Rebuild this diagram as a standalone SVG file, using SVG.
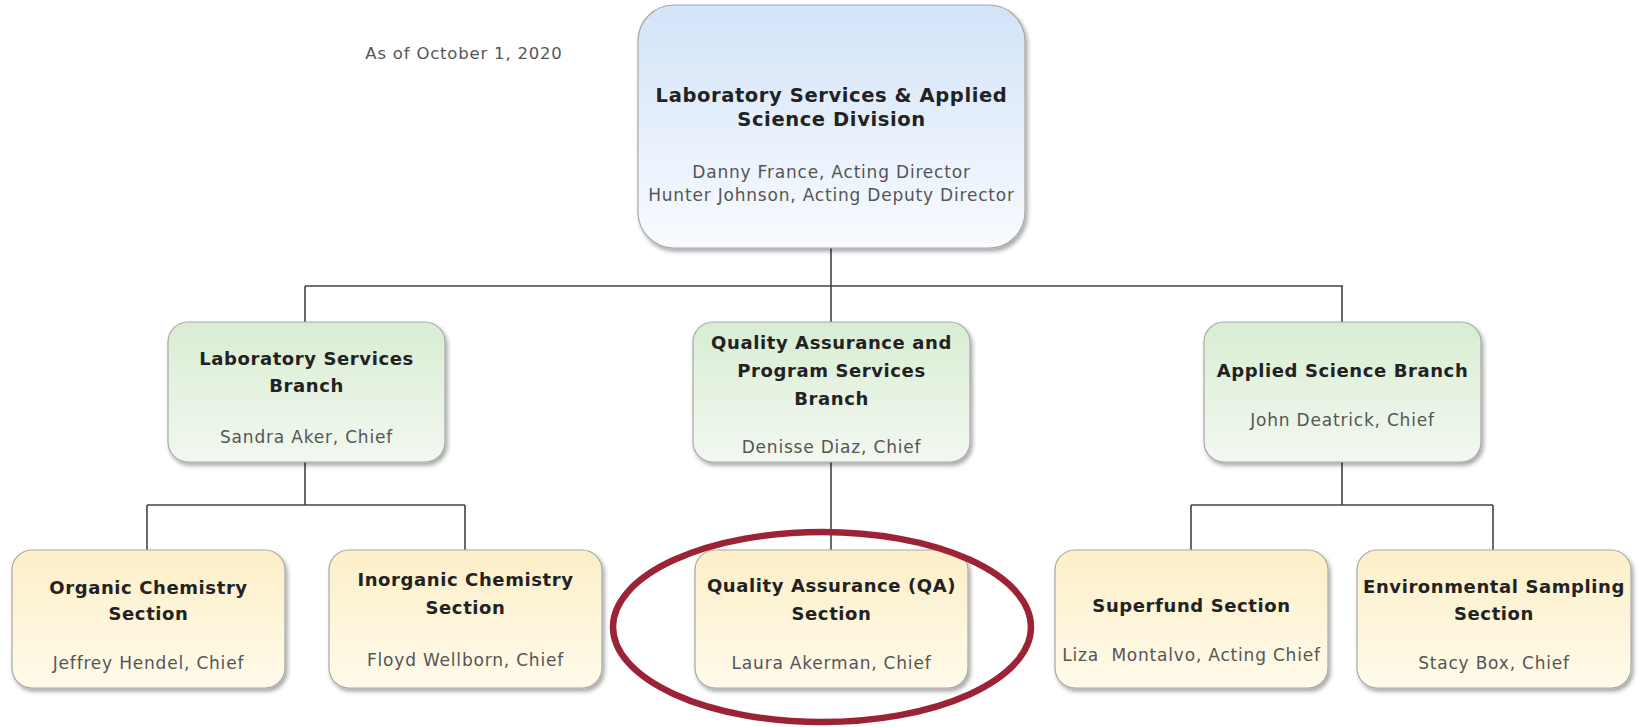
<svg xmlns="http://www.w3.org/2000/svg" width="1638" height="727" viewBox="0 0 1638 727">
<defs>
<linearGradient id="gBlue" x1="0" y1="0" x2="0" y2="1"><stop offset="0" stop-color="#d3e3f8"/><stop offset="1" stop-color="#f8fbfe"/></linearGradient>
<linearGradient id="gGreen" x1="0" y1="0" x2="0" y2="1"><stop offset="0" stop-color="#d9edd3"/><stop offset="1" stop-color="#f2f8f0"/></linearGradient>
<linearGradient id="gYellow" x1="0" y1="0" x2="0" y2="1"><stop offset="0" stop-color="#fcefc8"/><stop offset="1" stop-color="#fffaea"/></linearGradient>
<filter id="sh" x="-10%" y="-10%" width="125%" height="130%"><feDropShadow dx="2" dy="3" stdDeviation="2" flood-color="#000" flood-opacity="0.35"/></filter>
</defs>
<style>
.box{stroke:#a8a8a8;stroke-width:1.2;filter:url(#sh)}
.t{font-family:"DejaVu Sans",sans-serif;font-weight:bold;font-size:18px;fill:#222;text-anchor:middle;letter-spacing:0.6px}
.tt{font-size:19.5px}
.n{font-family:"DejaVu Sans",sans-serif;font-size:17px;fill:#555;text-anchor:middle;letter-spacing:0.8px}
.c{fill:none;stroke:#444;stroke-width:1.6}
</style>
<rect width="1638" height="727" fill="#fff"/>
<text x="464" y="59" style="font-family:'DejaVu Sans',sans-serif;font-size:16.5px;fill:#555;text-anchor:middle;letter-spacing:0.8px">As of October 1, 2020</text>
<g id="connectors">
<path class="c" d="M831 248V286M305 286H1343M305 286V322M831 286V322M1342 286V322"/>
<path class="c" d="M305 462V505M147 505H465M147 505V550M465 505V550"/>
<path class="c" d="M831 462V550"/>
<path class="c" d="M1342 462V505M1191 505H1493M1191 505V550M1493 505V550"/>
</g>
<g id="division">
<rect class="box" x="638" y="5" width="387" height="243" rx="36" fill="url(#gBlue)"/>
<text class="t tt" x="831.5" y="102">Laboratory Services &amp; Applied</text>
<text class="t tt" x="831.5" y="126">Science Division</text>
<text class="n" x="831.5" y="178">Danny France, Acting Director</text>
<text class="n" x="831.5" y="201">Hunter Johnson, Acting Deputy Director</text>
</g>
<g id="lab-branch">
<rect class="box" x="168" y="322" width="277" height="140" rx="20" fill="url(#gGreen)"/>
<text class="t" x="306.5" y="365">Laboratory Services</text>
<text class="t" x="306.5" y="392">Branch</text>
<text class="n" x="306.5" y="443">Sandra Aker, Chief</text>
</g>
<g id="qa-branch">
<rect class="box" x="693" y="322" width="277" height="140" rx="20" fill="url(#gGreen)"/>
<text class="t" x="831.5" y="349">Quality Assurance and</text>
<text class="t" x="831.5" y="377">Program Services</text>
<text class="t" x="831.5" y="405">Branch</text>
<text class="n" x="831.5" y="453">Denisse Diaz, Chief</text>
</g>
<g id="as-branch">
<rect class="box" x="1204" y="322" width="277" height="140" rx="20" fill="url(#gGreen)"/>
<text class="t" x="1342.5" y="377">Applied Science Branch</text>
<text class="n" x="1342.5" y="426">John Deatrick, Chief</text>
</g>
<g id="organic">
<rect class="box" x="12" y="550" width="273" height="138" rx="20" fill="url(#gYellow)"/>
<text class="t" x="148.5" y="594">Organic Chemistry</text>
<text class="t" x="148.5" y="620">Section</text>
<text class="n" x="148.5" y="669">Jeffrey Hendel, Chief</text>
</g>
<g id="inorganic">
<rect class="box" x="329" y="550" width="273" height="138" rx="20" fill="url(#gYellow)"/>
<text class="t" x="465.5" y="586">Inorganic Chemistry</text>
<text class="t" x="465.5" y="614">Section</text>
<text class="n" x="465.5" y="666">Floyd Wellborn, Chief</text>
</g>
<g id="qa-section">
<rect class="box" x="695" y="550" width="273" height="138" rx="20" fill="url(#gYellow)"/>
<text class="t" x="831.5" y="592">Quality Assurance (QA)</text>
<text class="t" x="831.5" y="620">Section</text>
<text class="n" x="831.5" y="669">Laura Akerman, Chief</text>
</g>
<g id="superfund">
<rect class="box" x="1055" y="550" width="273" height="138" rx="20" fill="url(#gYellow)"/>
<text class="t" x="1191.5" y="612">Superfund Section</text>
<text class="n" x="1191.5" y="661" style="white-space:pre">Liza  Montalvo, Acting Chief</text>
</g>
<g id="env-sampling">
<rect class="box" x="1357" y="550" width="274" height="138" rx="20" fill="url(#gYellow)"/>
<text class="t" x="1494" y="593">Environmental Sampling</text>
<text class="t" x="1494" y="620">Section</text>
<text class="n" x="1494" y="669">Stacy Box, Chief</text>
</g>
<g id="highlight">
<ellipse cx="822" cy="627" rx="209" ry="95" fill="none" stroke="#9b2335" stroke-width="6.5"/>
</g>
</svg>
